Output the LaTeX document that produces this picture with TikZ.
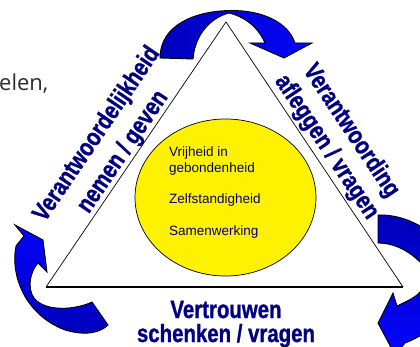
\documentclass[tikz,border=0pt]{standalone}
\usepackage{fontspec}
\setmainfont{Liberation Sans}
\newfontfamily\osans{Open Sans}
\newfontfamily\heavyfont[FakeBold=1.2]{Liberation Sans Bold}
\usetikzlibrary{shapes.geometric}
\definecolor{navy}{RGB}{0,0,128}
\definecolor{txtgray}{RGB}{45,45,45}
\definecolor{arrdark}{RGB}{0,0,185}
\definecolor{arrlight}{RGB}{5,5,255}
\begin{document}
\begin{tikzpicture}[x=1pt,y=-1pt,
  boldlbl/.style={font=\heavyfont\fontsize{24}{24}\selectfont, text=navy, inner sep=0pt, xscale=0.85, yscale=1.04, anchor=base},
  smalllbl/.style={font=\fontsize{13.5}{15.7}\selectfont, text=navy, inner sep=0pt, anchor=base west},
  arrowshape/.style={draw=black, line width=0.9pt, line join=miter},
  core/.style={draw=black, line width=0.7pt, fill=yellow, ellipse, inner sep=0pt, minimum width=181pt, minimum height=157pt}
]
\useasboundingbox (0,0) rectangle (420,347);
\clip (0,0) rectangle (420,347);

% fragment text
\node[font=\osans\fontsize{22}{22}\selectfont, text=txtgray, anchor=base west, inner sep=0pt] (frag) at (-1,90.5) {elen,};

% triangle
\coordinate (T) at (226,22);
\coordinate (L) at (46,287);
\coordinate (R) at (403,287);
\draw[line width=0.7pt] (L) -- (T) -- (R);
\draw[line width=2pt] (L) -- (R);

% core ellipse
\node[core] (kern) at (225.5,197.5) {};
\node[smalllbl] (v1) at (169,157) {Vrijheid in};
\node[smalllbl] (v2) at (169,172.7) {gebondenheid};
\node[smalllbl] (z) at (169,203.3) {Zelfstandigheid};
\node[smalllbl] (s) at (169,236) {Samenwerking};

% side labels
\node[rotate=55.8, boldlbl] (l1) at (102.5,138) {Verantwoordelijkheid};
\node[rotate=55.8, boldlbl] (l2) at (128.6,155.7) {nemen / geven};
\node[rotate=-56.3, boldlbl] (r1) at (345.5,134.5) {Verantwoording};
\node[rotate=-56.3, boldlbl] (r2) at (321,150.8) {afleggen / vragen};
\node[boldlbl] (b1) at (226,318) {Vertrouwen};
\node[boldlbl] (b2) at (226,342) {schenken / vragen};

% top arrow
\path[arrowshape, left color=arrdark, right color=arrlight]
  (160,58) .. controls (160,25) and (195,11) .. (230,10.5)
  .. controls (262,10) and (288,22) .. (295,43)
  -- (312,43) -- (284,58) -- (250,43) -- (265,43)
  .. controls (258,27) and (245,17) .. (229,13)
  .. controls (210,18) and (195,35) .. (193,59) -- cycle;

% left arrow
\path[arrowshape, top color=arrlight, bottom color=arrdark]
  (15,225) -- (24,236) -- (16,246)
  .. controls (10,275) and (25,315) .. (65,330)
  .. controls (85,336) and (100,333) .. (108,325)
  -- (92,302)
  .. controls (75,310) and (45,312) .. (34,298)
  .. controls (27,288) and (30,272) .. (38,263)
  -- (47,272) -- (43,240) -- cycle;

% right arrow
\path[arrowshape, top color=arrdark, bottom color=arrlight]
  (378,215) .. controls (410,214) and (445,235) .. (452,268)
  .. controls (458,300) and (440,330) .. (405,343)
  -- (395,355) -- (378,323) -- (393,293) -- (397,306)
  .. controls (405,302) and (415,298) .. (420,292)
  .. controls (428,282) and (428,268) .. (420,262)
  .. controls (410,252) and (395,243) .. (378,243) -- cycle;
\end{tikzpicture}
\end{document}
